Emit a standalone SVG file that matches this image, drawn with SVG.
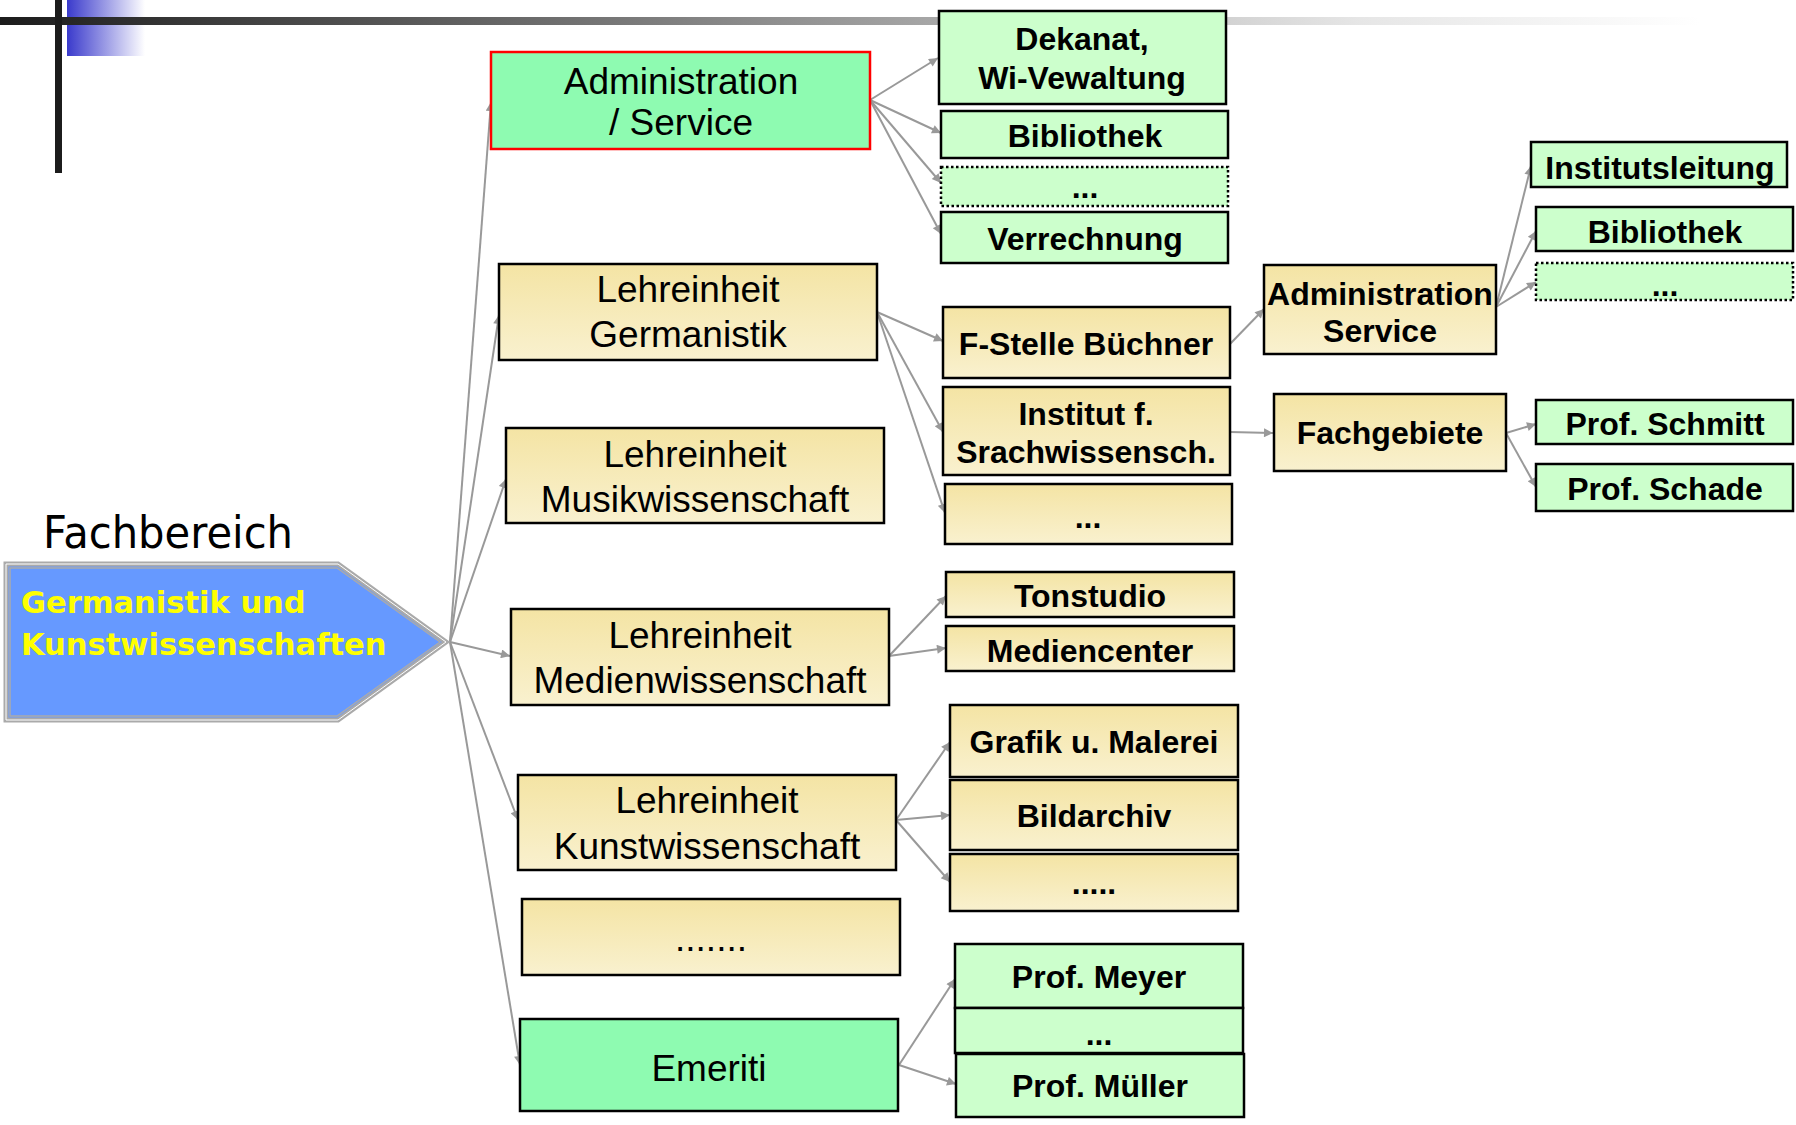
<svg xmlns="http://www.w3.org/2000/svg" width="1796" height="1125" viewBox="0 0 1796 1125">
<style>
.n{font-family:"Liberation Sans",Arial,sans-serif;font-size:37px;fill:#000;text-anchor:middle}
.b{font-family:"Liberation Sans",Arial,sans-serif;font-size:32px;font-weight:bold;fill:#000;text-anchor:middle}
.beige{fill:url(#gBeige);stroke:#000;stroke-width:2.5}
.lg{fill:#ccffcc;stroke:#000;stroke-width:2.5}
.lgd{fill:#ccffcc;stroke:#000;stroke-width:2.5;stroke-dasharray:2.5,2.5}
.mg{fill:#8efbb1;stroke:#000;stroke-width:2.5}
.c line{stroke:#999;stroke-width:2;marker-end:url(#ah)}
</style>
<defs>
<linearGradient id="gBeige" x1="0" y1="0" x2="0" y2="1">
<stop offset="0" stop-color="#f4e4a4"/>
<stop offset="1" stop-color="#f9f1cf"/>
</linearGradient>
<linearGradient id="gBar" x1="0" y1="0" x2="1700" y2="0" gradientUnits="userSpaceOnUse">
<stop offset="0" stop-color="#1c1c1c"/>
<stop offset="0.5" stop-color="#9a9a9a"/>
<stop offset="0.8" stop-color="#e6e6e6"/>
<stop offset="1" stop-color="#ffffff"/>
</linearGradient>
<linearGradient id="gBlue" x1="67" y1="0" x2="145" y2="0" gradientUnits="userSpaceOnUse">
<stop offset="0" stop-color="#3a3acc"/>
<stop offset="1" stop-color="#ffffff"/>
</linearGradient>
<marker id="ah" viewBox="0 0 10 10" refX="10" refY="5" markerWidth="11" markerHeight="9" orient="auto" markerUnits="userSpaceOnUse">
<path d="M0,0 L10,5 L0,10 z" fill="#999"/>
</marker>
</defs>
<rect width="1796" height="1125" fill="#fff"/>

<g id="decor">
<rect x="67" y="0" width="80" height="56" fill="url(#gBlue)"/>
<rect x="0" y="17" width="1700" height="8" fill="url(#gBar)"/>
<rect x="55" y="0" width="7" height="173" fill="#1c1c1c"/>
</g>

<g id="connectors" class="c">
<line x1="450" y1="642" x2="491" y2="102"/>
<line x1="450" y1="642" x2="499" y2="315"/>
<line x1="450" y1="642" x2="506" y2="479"/>
<line x1="450" y1="642" x2="510" y2="656"/>
<line x1="450" y1="642" x2="518" y2="820"/>
<line x1="450" y1="642" x2="520" y2="1065"/>
<line x1="870" y1="100" x2="938" y2="58"/>
<line x1="870" y1="100" x2="941" y2="133"/>
<line x1="870" y1="100" x2="941" y2="183"/>
<line x1="870" y1="100" x2="941" y2="234"/>
<line x1="877" y1="312" x2="943" y2="341"/>
<line x1="877" y1="312" x2="943" y2="432"/>
<line x1="877" y1="312" x2="945" y2="513"/>
<line x1="1230" y1="344" x2="1264" y2="309"/>
<line x1="1230" y1="432" x2="1273" y2="433"/>
<line x1="1496" y1="307" x2="1531" y2="166"/>
<line x1="1496" y1="307" x2="1536" y2="231"/>
<line x1="1496" y1="307" x2="1536" y2="282"/>
<line x1="1506" y1="433" x2="1536" y2="424"/>
<line x1="1506" y1="433" x2="1536" y2="487"/>
<line x1="889" y1="656" x2="946" y2="596"/>
<line x1="889" y1="656" x2="946" y2="648"/>
<line x1="896" y1="820" x2="950" y2="742"/>
<line x1="896" y1="820" x2="950" y2="815"/>
<line x1="896" y1="820" x2="950" y2="882"/>
<line x1="899" y1="1065" x2="955" y2="979"/>
<line x1="899" y1="1065" x2="956" y2="1084"/>
</g>

<g id="fachbereich">
<text x="43" y="548" font-family="DejaVu Sans, sans-serif" font-size="45" textLength="250" lengthAdjust="spacingAndGlyphs" fill="#000">Fachbereich</text>
<polygon points="6,564 338,564 446,642 338,720 6,720" fill="#6699ff" stroke="#aaaaaa" stroke-width="5"/>
<polygon points="6,564 338,564 446,642 338,720 6,720" fill="none" stroke="#ffffff" stroke-width="1"/>
<polygon points="10,568 337,568 440,642 337,716 10,716" fill="#6699ff" stroke="#aaaaaa" stroke-width="1.5"/>
<text x="21" y="613" font-family="DejaVu Sans, sans-serif" font-size="30.5" font-weight="bold" fill="#ffff00">Germanistik und</text>
<text x="21" y="655" font-family="DejaVu Sans, sans-serif" font-size="30.5" font-weight="bold" fill="#ffff00">Kunstwissenschaften</text>
</g>

<g id="admin">
<rect x="491" y="52" width="379" height="97" fill="#8efbb1" stroke="#ff0000" stroke-width="2.5"/>
<text class="n" x="681" y="94">Administration</text>
<text class="n" x="681" y="135">/ Service</text>
</g>
<g id="dekanat"><rect class="lg" x="939" y="11" width="287" height="93"/><text class="b" x="1082" y="50">Dekanat,</text><text class="b" x="1082" y="89">Wi-Vewaltung</text></g>
<g id="bibliothek1"><rect class="lg" x="941" y="111" width="287" height="47"/><text class="b" x="1085" y="147">Bibliothek</text></g>
<g id="dots1"><rect class="lgd" x="941" y="167" width="287" height="39"/><text class="b" x="1085" y="198">...</text></g>
<g id="verrechnung"><rect class="lg" x="941" y="212" width="287" height="51"/><text class="b" x="1085" y="250">Verrechnung</text></g>

<g id="le-germanistik"><rect class="beige" x="499" y="264" width="378" height="96"/><text class="n" x="688" y="302">Lehreinheit</text><text class="n" x="688" y="347">Germanistik</text></g>
<g id="le-musik"><rect class="beige" x="506" y="428" width="378" height="95"/><text class="n" x="695" y="467">Lehreinheit</text><text class="n" x="695" y="512">Musikwissenschaft</text></g>
<g id="le-medien"><rect class="beige" x="511" y="609" width="378" height="96"/><text class="n" x="700" y="648">Lehreinheit</text><text class="n" x="700" y="693">Medienwissenschaft</text></g>
<g id="le-kunst"><rect class="beige" x="518" y="775" width="378" height="95"/><text class="n" x="707" y="813">Lehreinheit</text><text class="n" x="707" y="859">Kunstwissenschaft</text></g>
<g id="le-more"><rect class="beige" x="522" y="899" width="378" height="76"/><text class="n" x="711" y="951">.......</text></g>
<g id="emeriti"><rect class="mg" x="520" y="1019" width="378" height="92"/><text class="n" x="709" y="1081">Emeriti</text></g>

<g id="fstelle"><rect class="beige" x="943" y="307" width="287" height="71"/><text class="b" x="1086" y="355">F-Stelle Büchner</text></g>
<g id="institut"><rect class="beige" x="943" y="387" width="287" height="88"/><text class="b" x="1086" y="425">Institut f.</text><text class="b" x="1086" y="463">Srachwissensch.</text></g>
<g id="germ-more"><rect class="beige" x="945" y="484" width="287" height="60"/><text class="b" x="1088" y="528">...</text></g>

<g id="admin-service"><rect class="beige" x="1264" y="265" width="232" height="89"/><text class="b" x="1380" y="305">Administration</text><text class="b" x="1380" y="342">Service</text></g>
<g id="institutsleitung"><rect class="lg" x="1531" y="142" width="256" height="45"/><text class="b" x="1660" y="179">Institutsleitung</text></g>
<g id="bibliothek2"><rect class="lg" x="1536" y="207" width="257" height="44"/><text class="b" x="1665" y="243">Bibliothek</text></g>
<g id="dots2"><rect class="lgd" x="1536" y="263" width="257" height="37"/><text class="b" x="1665" y="296">...</text></g>

<g id="fachgebiete"><rect class="beige" x="1274" y="394" width="232" height="77"/><text class="b" x="1390" y="444">Fachgebiete</text></g>
<g id="schmitt"><rect class="lg" x="1536" y="400" width="257" height="44"/><text class="b" x="1665" y="435">Prof. Schmitt</text></g>
<g id="schade"><rect class="lg" x="1536" y="464" width="257" height="47"/><text class="b" x="1665" y="500">Prof. Schade</text></g>

<g id="tonstudio"><rect class="beige" x="946" y="572" width="288" height="45"/><text class="b" x="1090" y="607">Tonstudio</text></g>
<g id="mediencenter"><rect class="beige" x="946" y="626" width="288" height="45"/><text class="b" x="1090" y="662">Mediencenter</text></g>

<g id="grafik"><rect class="beige" x="950" y="705" width="288" height="72"/><text class="b" x="1094" y="753">Grafik u. Malerei</text></g>
<g id="bildarchiv"><rect class="beige" x="950" y="780" width="288" height="70"/><text class="b" x="1094" y="827">Bildarchiv</text></g>
<g id="kunst-more"><rect class="beige" x="950" y="854" width="288" height="57"/><text class="b" x="1094" y="894">.....</text></g>

<g id="meyer"><rect class="lg" x="955" y="944" width="288" height="64"/><text class="b" x="1099" y="988">Prof. Meyer</text></g>
<g id="emer-more"><rect class="lg" x="955" y="1008" width="288" height="45"/><text class="b" x="1099" y="1045">...</text></g>
<g id="mueller"><rect class="lg" x="956" y="1054" width="288" height="63"/><text class="b" x="1100" y="1097">Prof. Müller</text></g>
</svg>
